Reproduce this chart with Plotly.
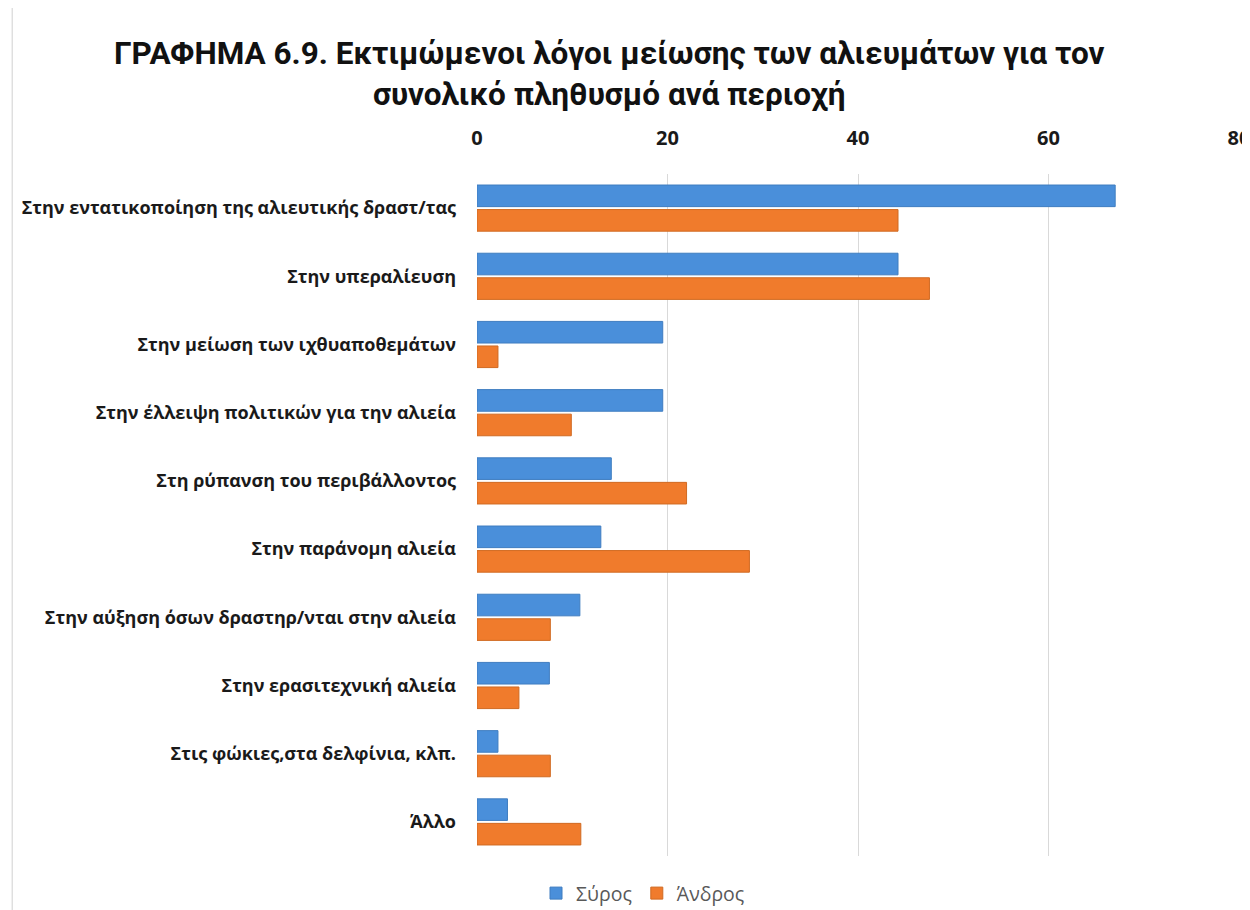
import plotly.graph_objects as go

# Κατηγορίες (από πάνω προς τα κάτω)
categories = [
    'Στην εντατικοποίηση της αλιευτικής δραστ/τας',
    'Στην υπεραλίευση',
    'Στην μείωση των ιχθυαποθεμάτων',
    'Στην έλλειψη πολιτικών για την αλιεία',
    'Στη ρύπανση του περιβάλλοντος',
    'Στην παράνομη αλιεία',
    'Στην αύξηση όσων δραστηρ/νται στην αλιεία',
    'Στην ερασιτεχνική αλιεία',
    'Στις φώκιες,στα δελφίνια, κλπ.',
    'Άλλο',
]

# Τιμές ανά περιοχή
syros = [67.0, 44.2, 19.5, 19.5, 14.1, 13.0, 10.8, 7.6, 2.2, 3.2]
andros = [44.2, 47.5, 2.2, 9.9, 22.0, 28.6, 7.7, 4.4, 7.7, 10.9]

x_ticks = [0, 20, 40, 60, 80]

title_text = ('ΓΡΑΦΗΜΑ 6.9. Εκτιμώμενοι λόγοι μείωσης των αλιευμάτων για τον<br>'
              'συνολικό πληθυσμό ανά περιοχή')

fig = go.Figure()

fig.add_trace(go.Bar(
    y=categories, x=syros, name='Σύρος', orientation='h',
    marker=dict(color='#4A8FDA', line=dict(color='#3F7DC0', width=1)),
))
fig.add_trace(go.Bar(
    y=categories, x=andros, name='Άνδρος', orientation='h',
    marker=dict(color='#F07B2C', line=dict(color='#D06A22', width=1)),
))

# η σελίδα προσθέτει 8px περιθώριο, οπότε τα περιθώρια μετατοπίζονται
fig.update_layout(
    width=1250, height=910,
    paper_bgcolor='white', plot_bgcolor='white',
    margin=dict(l=469, r=19, t=166, b=62, autoexpand=False),
    barmode='group', bargap=0.28, bargroupgap=0.12,
    font=dict(family='Open Sans, DejaVu Sans, sans-serif', color='#1a1a1a'),
    title=dict(
        text='<b>' + title_text + '</b>',
        x=0.481, xanchor='center', xref='container',
        y=0.938, yanchor='middle', yref='container',
        font=dict(family='Roboto, Open Sans, sans-serif', size=31.5, color='#111111'),
    ),
    xaxis=dict(
        side='top', range=[0, 80], tickvals=x_ticks, automargin=False,
        ticklabeloverflow='allow',
        tickfont=dict(size=20, color='#1a1a1a', family='Open Sans, sans-serif', weight='bold'),
        showgrid=True, gridcolor='#D9D9D9', gridwidth=1,
        zeroline=False, showline=False, ticks='', ticklabelstandoff=24,
    ),
    yaxis=dict(
        autorange='reversed', automargin=False,
        tickfont=dict(size=18, color='#1a1a1a', family='Open Sans, sans-serif', weight='bold'),
        showgrid=False, zeroline=False, showline=False, ticks='', ticklabelstandoff=20,
    ),
    legend=dict(
        orientation='h', xref='container', yref='container',
        x=0.508, xanchor='center', y=0.027, yanchor='middle',
        font=dict(size=19.5, color='#595959'),
        traceorder='normal',
    ),
    shapes=[dict(type='line', xref='paper', yref='paper', x0=-0.610, x1=-0.610, y0=-0.09, y1=1.25,
                 line=dict(color='#D0D0D0', width=1))],
)

fig.write_html('out.html')
